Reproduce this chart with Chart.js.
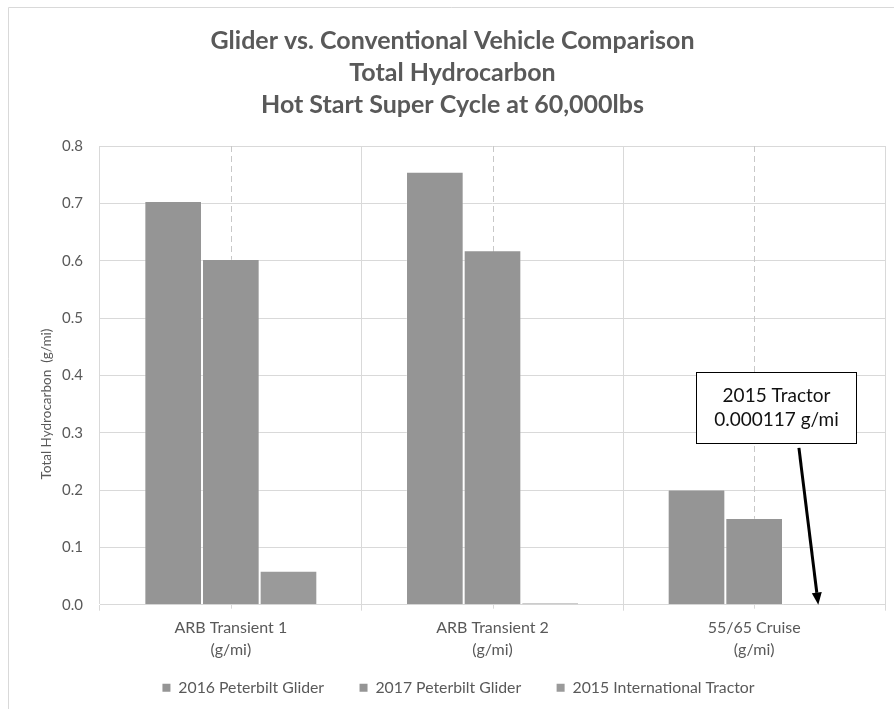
<!DOCTYPE html>
<html>
<head>
<meta charset="utf-8">
<script src="https://cdn.jsdelivr.net/npm/chart.js@4.4.1/dist/chart.umd.min.js"></script>
<style>
  html, body { margin: 0; padding: 0; background: #fff; overflow: hidden; }
  #wrap { width: 894px; height: 709px; }
</style>
</head>
<body>
<div id="wrap"><canvas id="thc" width="894" height="709"></canvas></div>
<script>
var categories = [['ARB Transient 1', '(g/mi)'], ['ARB Transient 2', '(g/mi)'], ['55/65 Cruise', '(g/mi)']];
var glider2016 = [0.704, 0.755, 0.201];
var glider2017 = [0.603, 0.618, 0.151];
var intl2015 = [0.059, 0.003, 0.000117];
var yTicks = [0, 0.1, 0.2, 0.3, 0.4, 0.5, 0.6, 0.7, 0.8];

var textGray = '#595959';
var gridGray = '#d9d9d9';
var legendSize = 15.8;
var legendPad = 19.25;

// page frame, dashed centre lines, y title, callout
var extras = {
  id: 'extras',
  afterLayout: function (chart) {
    // Excel centres title and legend a little right of the canvas middle
    chart.legend.left += 16;
    chart.legend.right += 16;
    chart.titleBlock.left += 10;
    chart.titleBlock.right += 10;
  },
  beforeDraw: function (chart) {
    var c = chart.ctx;
    c.save();
    c.strokeStyle = gridGray;
    c.lineWidth = 1;
    c.beginPath();
    c.moveTo(8.5, 709);
    c.lineTo(8.5, 7.5);
    c.lineTo(894, 7.5);
    c.stroke();
    c.restore();
  },
  beforeDatasetsDraw: function (chart) {
    var c = chart.ctx, x = chart.scales.x, a = chart.chartArea;
    c.save();
    c.lineWidth = 1;
    for (var i = 0; i < categories.length; i++) {
      var px = Math.round(x.getPixelForValue(i)) + 0.5;
      c.strokeStyle = '#c8c8c8';
      c.setLineDash([6, 4]);
      c.beginPath();
      c.moveTo(px, a.top);
      c.lineTo(px, a.bottom);
      c.stroke();
      c.setLineDash([]);
      c.strokeStyle = gridGray;
      c.beginPath();
      c.moveTo(px, a.bottom);
      c.lineTo(px, a.bottom + 4);
      c.stroke();
    }
    c.restore();
  },
  afterDatasetsDraw: function (chart) {
    var c = chart.ctx, x = chart.scales.x, y = chart.scales.y;
    c.save();
    // y axis title
    c.translate(47, 404);
    c.rotate(-Math.PI / 2);
    c.fillStyle = textGray;
    c.font = '13.5px Lato';
    c.textAlign = 'center';
    c.textBaseline = 'middle';
    c.fillText('Total Hydrocarbon  (g/mi)', 0, 0);
    c.restore();

    // callout box
    var bx1 = Math.round(x.getPixelForValue(1.776)) + 0.5;
    var bx2 = Math.round(x.getPixelForValue(2.388)) + 0.5;
    var by1 = Math.round(y.getPixelForValue(0.406)) + 0.5;
    var by2 = Math.round(y.getPixelForValue(0.2824)) + 0.5;
    c.save();
    c.fillStyle = '#fff';
    c.fillRect(bx1, by1, bx2 - bx1, by2 - by1);
    c.strokeStyle = '#000';
    c.lineWidth = 1;
    c.strokeRect(bx1, by1, bx2 - bx1, by2 - by1);
    c.fillStyle = '#111';
    c.font = '19px Lato';
    c.textAlign = 'center';
    c.textBaseline = 'middle';
    var cx = (bx1 + bx2) / 2;
    c.fillText('2015 Tractor', cx, by1 + 23);
    c.fillText('0.000117 g/mi', cx, by1 + 47);

    // arrow down to the 2015 bar
    var el = chart.getDatasetMeta(2).data[2];
    var sx = x.getPixelForValue(2.171), sy = y.getPixelForValue(0.2736);
    var tx = x.getPixelForValue(2.245), ty = el.y;
    var ang = Math.atan2(ty - sy, tx - sx);
    var hl = 12, hw = 5;
    var bxp = tx - hl * Math.cos(ang), byp = ty - hl * Math.sin(ang);
    c.strokeStyle = '#000';
    c.lineWidth = 3;
    c.beginPath();
    c.moveTo(sx, sy);
    c.lineTo(bxp, byp);
    c.stroke();
    c.fillStyle = '#000';
    c.beginPath();
    c.moveTo(tx, ty);
    c.lineTo(bxp + hw * Math.sin(ang), byp - hw * Math.cos(ang));
    c.lineTo(bxp - hw * Math.sin(ang), byp + hw * Math.cos(ang));
    c.closePath();
    c.fill();
    c.restore();
  }
};

// legend padding is also its gap above; widen the item gaps with trailing spaces
var measure = document.createElement('canvas').getContext('2d');
measure.font = legendSize + 'px Lato';
var spaceW = measure.measureText(' ').width || 4;
var extraSpaces = new Array(Math.max(0, Math.round((36 - legendPad) / spaceW)) + 1).join(' ');

var ctx = document.getElementById('thc').getContext('2d');
var data = {
  labels: categories,
  datasets: [
    { label: '2016 Peterbilt Glider', data: glider2016, backgroundColor: '#959595' },
    { label: '2017 Peterbilt Glider', data: glider2017, backgroundColor: '#959595' },
    { label: '2015 International Tractor', data: intl2015, backgroundColor: '#9a9a9a' }
  ]
};
data.datasets.forEach(function (d) {
  d.borderColor = 'rgba(255,255,255,0.25)';
  d.borderWidth = 1;
  d.categoryPercentage = 0.661;
  d.barPercentage = 1;
});

var thcChart = new Chart(ctx, {
  type: 'bar',
  data: data,
  plugins: [extras],
  options: {
    responsive: false,
    maintainAspectRatio: false,
    animation: false,
    layout: { padding: { left: 0, right: 9, top: 0, bottom: 3.25 } },
    plugins: {
      title: {
        display: true,
        text: ['Glider vs. Conventional Vehicle Comparison', 'Total Hydrocarbon', 'Hot Start Super Cycle at 60,000lbs'],
        color: textGray,
        font: { family: 'Lato', size: 25, weight: 'bold', lineHeight: 1.28 },
        padding: { top: 25, bottom: 25 }
      },
      legend: {
        position: 'bottom',
        labels: {
          color: textGray,
          font: { family: 'Lato', size: legendSize },
          boxWidth: 8,
          boxHeight: 8,
          padding: legendPad,
          generateLabels: function (chart) {
            var items = Chart.defaults.plugins.legend.labels.generateLabels(chart);
            items.forEach(function (it, i) {
              it.lineWidth = 0;
              if (i < items.length - 1) it.text = it.text + extraSpaces;
            });
            return items;
          }
        }
      },
      tooltip: { enabled: false }
    },
    scales: {
      x: {
        grid: { color: gridGray, offset: true, tickLength: 6, tickColor: gridGray },
        border: { color: gridGray },
        ticks: {
          color: textGray,
          font: { family: 'Lato', size: 16, lineHeight: 1.375 },
          padding: 6,
          maxRotation: 0
        },
        afterFit: function (s) { s.height = s.height - 6; }
      },
      y: {
        min: 0,
        max: 0.8,
        afterBuildTicks: function (s) {
          s.ticks = yTicks.map(function (v) { return { value: v }; });
        },
        grid: { color: gridGray, drawTicks: false },
        border: { display: false },
        ticks: {
          color: textGray,
          font: { family: 'Lato', size: 15 },
          padding: 17,
          callback: function (v) { return Number(v).toFixed(1); }
        },
        afterFit: function (s) { s.width = 100; }
      }
    }
  }
});
</script>
</body>
</html>
